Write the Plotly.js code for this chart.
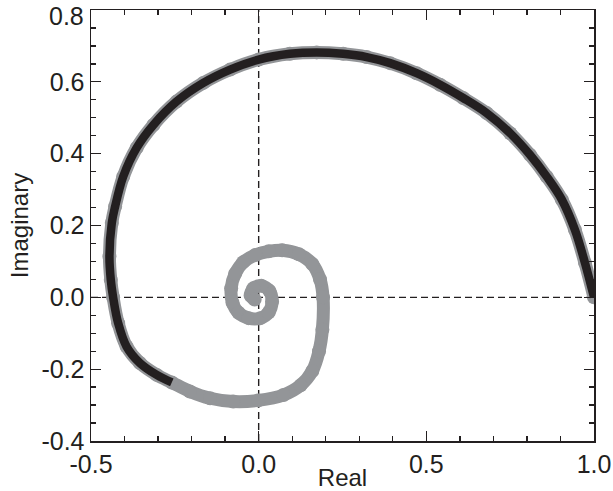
<!DOCTYPE html>
<html>
<head>
<meta charset="utf-8">
<script src="https://cdn.plot.ly/plotly-3.0.1.min.js"></script>
<style>
  html, body { margin: 0; padding: 0; background: #ffffff; }
  #chart { width: 613px; height: 491px; }
</style>
</head>
<body>
<div id="chart"></div>
<script>
// Trajectory in the complex plane: real and imaginary parts, in order.
const realPart = [
  1.000, 0.973, 0.943, 0.904, 0.859, 0.809, 0.750, 0.680, 0.610, 0.541,
  0.471, 0.392, 0.322, 0.252, 0.173, 0.093, 0.000, -0.085, -0.165, -0.245,
  -0.314, -0.364, -0.404, -0.428, -0.438, -0.445, -0.441, -0.434, -0.419, -0.394,
  -0.354, -0.304, -0.259, -0.205, -0.145, -0.076, -0.001, 0.074, 0.125, 0.160,
  0.180, 0.190, 0.192, 0.183, 0.160, 0.120, 0.070, 0.030, -0.010, -0.046,
  -0.070, -0.082, -0.078, -0.060, -0.030, 0.005, 0.030, 0.040, 0.032, 0.008,
  -0.016, -0.024, -0.012
];
const imagPart = [
  0.000, 0.096, 0.188, 0.272, 0.336, 0.397, 0.457, 0.513, 0.555, 0.592,
  0.624, 0.652, 0.669, 0.678, 0.682, 0.678, 0.662, 0.634, 0.597, 0.545,
  0.480, 0.416, 0.336, 0.253, 0.207, 0.114, 0.049, 0.000, -0.072, -0.137,
  -0.183, -0.216, -0.237, -0.262, -0.281, -0.290, -0.287, -0.272, -0.245, -0.205,
  -0.150, -0.090, 0.000, 0.050, 0.093, 0.120, 0.131, 0.128, 0.118, 0.098,
  0.066, 0.025, -0.015, -0.043, -0.058, -0.058, -0.042, -0.012, 0.018, 0.032,
  0.025, 0.005, -0.006
];
// Number of leading samples traced by the dark curve.
const tracedCount = 33;

const xTicks = [-0.5, 0.0, 0.5, 1.0];
const xTickText = ['-0.5', '0.0', '0.5', '1.0'];
const yTicks = [-0.4, -0.2, 0.0, 0.2, 0.4, 0.6, 0.8];
const yTickText = ['-0.4', '-0.2', '0.0', '0.2', '0.4', '0.6', '0.8'];

const ink = '#231f20';
const grey = '#939598';
const fontFamily = '"Liberation Sans", Arial, Helvetica, sans-serif';
const tickFont = { family: fontFamily, size: 25, color: ink };

const traces = [
  {
    x: realPart, y: imagPart,
    type: 'scatter', mode: 'lines+markers',
    line: { color: grey, width: 13, shape: 'spline', smoothing: 1 },
    marker: { color: grey, size: 14, line: { width: 0 } },
    hoverinfo: 'skip', showlegend: false
  },
  {
    x: realPart.slice(0, tracedCount), y: imagPart.slice(0, tracedCount),
    type: 'scatter', mode: 'lines',
    line: { color: ink, width: 8.5, shape: 'spline', smoothing: 1 },
    hoverinfo: 'skip', showlegend: false
  }
];

function axisStyle(range, vals, text, minorStep, minorStart) {
  return {
    range: range,
    tickmode: 'array', tickvals: vals, ticktext: text,
    ticks: 'inside', ticklen: 10, tickwidth: 1.3, tickcolor: ink,
    minor: { tickmode: 'linear', tick0: minorStart, dtick: minorStep,
             ticks: 'inside', ticklen: 5, tickwidth: 1.3, tickcolor: ink },
    showline: true, linecolor: ink, linewidth: 1.5, mirror: 'ticks',
    showgrid: false, zeroline: false,
    tickfont: tickFont,
    fixedrange: true
  };
}

const xaxis = axisStyle([-0.5, 1.0], xTicks, xTickText, 0.1, -0.5);
xaxis.title = { text: 'Real', font: { family: fontFamily, size: 24, color: ink }, standoff: 0 };
xaxis.ticklabelstandoff = 0;

// The top label sits a little below its tick so it stays inside the figure;
// it is drawn as an annotation and left blank on the axis itself.
const topIdx = yTicks.length - 1;
const yAxisText = yTickText.map((t, i) => (i === topIdx ? '' : t));
const yaxis = axisStyle([-0.4, 0.80001], yTicks, yAxisText, 0.05, -0.4);
yaxis.title = { text: 'Imaginary', font: { family: fontFamily, size: 24, color: ink }, standoff: 6 };

const layout = {
  width: 613, height: 491,
  margin: { l: 91, r: 19, t: 10, b: 50 },
  paper_bgcolor: '#ffffff', plot_bgcolor: '#ffffff',
  xaxis: xaxis, yaxis: yaxis,
  annotations: [
    { xref: 'paper', yref: 'y', x: 0, y: yTicks[topIdx], text: yTickText[topIdx],
      xanchor: 'right', yanchor: 'middle', xshift: -5, yshift: -6,
      showarrow: false, font: tickFont }
  ],
  shapes: [
    { type: 'line', xref: 'x', yref: 'y', x0: 0, x1: 0, y0: -0.4, y1: 0.8,
      line: { color: ink, width: 1.4, dash: '7px,4px' }, layer: 'below' },
    { type: 'line', xref: 'x', yref: 'y', x0: -0.5, x1: 1.0, y0: 0, y1: 0,
      line: { color: ink, width: 1.4, dash: '7px,4px' }, layer: 'below' }
  ]
};

Plotly.newPlot('chart', traces, layout, { staticPlot: true, displayModeBar: false });
</script>
</body>
</html>
